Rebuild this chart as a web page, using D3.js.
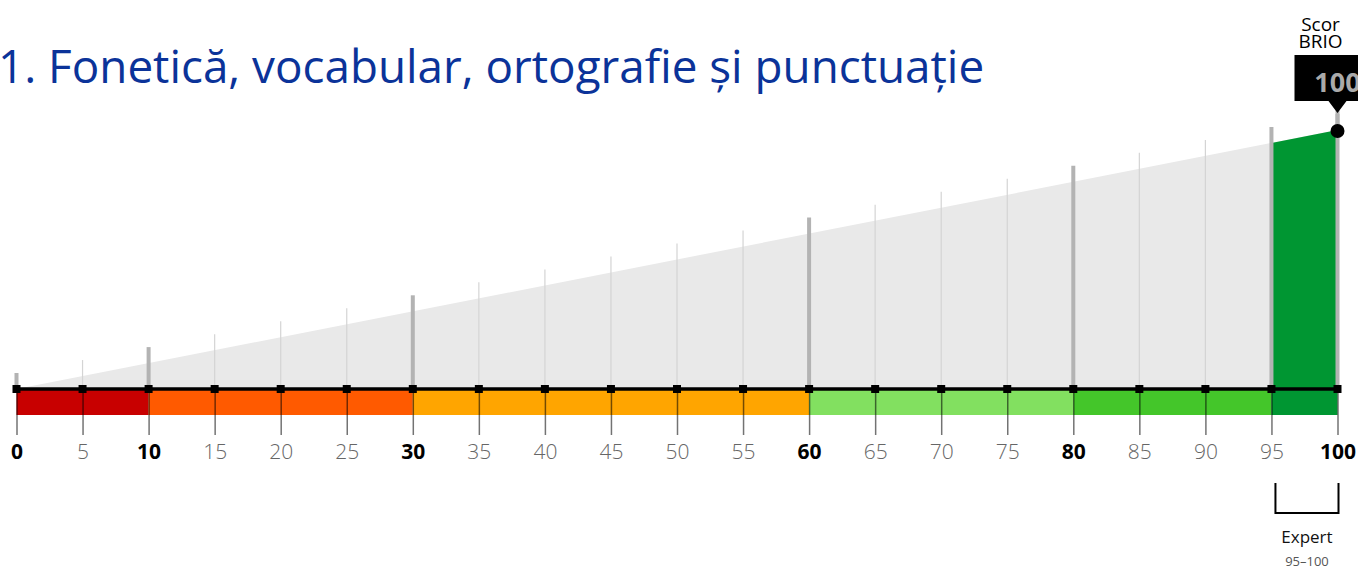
<!DOCTYPE html>
<html>
<head>
<meta charset="utf-8">
<script src="https://cdn.jsdelivr.net/npm/d3@7"></script>
<style>
  body { margin: 0; background: #fff; overflow: hidden; }
  svg { display: block; font-family: "Open Sans", "Noto Sans", sans-serif; }
</style>
</head>
<body>
<svg id="chart" width="1358" height="570"></svg>
<script>
// data
const title = "1. Fonetică, vocabular, ortografie și punctuație";
const tickValues = d3.range(0, 101, 5);
const bandEdges = [0, 10, 30, 60, 80, 95, 100];
const boldLabels = [0, 10, 30, 60, 80, 100];
const score = 100;
const scoreLabel = ["Scor", "BRIO"];
const level = { name: "Expert", from: 95, to: 100 };

const bandColors = ["#c80000", "#ff5a00", "#ffa500", "#82e060", "#44c62a", "#009632"];

const svg = d3.select("#chart");
const axisY = 389;

const x = d3.scaleLinear().domain([0, 100]).range([16.5, 1337.5]);
// height of the grey wedge above the axis
const h = d3.scaleLinear().domain([0, 100]).range([0, 259]);

svg.append("text")
    .attr("x", -2)
    .attr("y", 83)
    .attr("fill", "#0b3399")
    .attr("font-size", 45.8)
    .text(title);

// grey wedge
svg.append("path")
    .attr("fill", "#e9e9e9")
    .attr("d", d3.area()
        .x(d => x(d))
        .y0(axisY)
        .y1(d => axisY - h(d))([0, 100]));

// green fill for the achieved level
svg.append("path")
    .attr("fill", "#009632")
    .attr("d", d3.area()
        .x(d => x(d))
        .y0(axisY)
        .y1(d => axisY - h(d))([level.from, score]));

// vertical grid lines
svg.append("g").selectAll("line")
    .data(tickValues)
    .join("line")
    .attr("x1", d => x(d))
    .attr("x2", d => x(d))
    .attr("y1", axisY)
    .attr("y2", d => axisY - h(d) - 16)
    .attr("stroke", d => bandEdges.includes(d) ? "#b3b3b3" : "#d4d4d4")
    .attr("stroke-width", d => bandEdges.includes(d) ? 4 : 1.2);

// colour bands
svg.append("g").selectAll("rect")
    .data(d3.pairs(bandEdges))
    .join("rect")
    .attr("x", d => x(d[0]))
    .attr("width", d => x(d[1]) - x(d[0]))
    .attr("y", axisY)
    .attr("height", 26)
    .attr("fill", (d, i) => bandColors[i]);

// tick marks below the axis
const axisG = svg.append("g")
    .attr("transform", `translate(0,${axisY})`)
    .call(d3.axisBottom(x).tickValues(tickValues).tickSize(46).tickPadding(9)
        .tickFormat(d3.format("d")));
axisG.select(".domain").remove();
axisG.selectAll(".tick line")
    .attr("stroke", "#000")
    .attr("stroke-opacity", 0.55)
    .attr("stroke-width", 1.5);
axisG.selectAll(".tick text")
    .attr("font-family", "'Open Sans', 'Noto Sans', sans-serif")
    .attr("font-size", 21)
    .attr("dy", "0.71em")
    .attr("font-weight", d => boldLabels.includes(d) ? 700 : 300)
    .attr("fill", d => boldLabels.includes(d) ? "#000" : "#666");

// axis line with square markers
svg.append("line")
    .attr("x1", x(0))
    .attr("x2", x(100) + 2)
    .attr("y1", axisY)
    .attr("y2", axisY)
    .attr("stroke", "#000")
    .attr("stroke-width", 3.5);
svg.append("g").selectAll("rect")
    .data(tickValues)
    .join("rect")
    .attr("x", d => x(d) - 4)
    .attr("y", axisY - 4)
    .attr("width", 8)
    .attr("height", 8)
    .attr("fill", "#000");

// score marker
const sx = x(score), sy = axisY - h(score) + 1;
svg.append("line")
    .attr("x1", sx).attr("x2", sx)
    .attr("y1", 110).attr("y2", sy)
    .attr("stroke", "#b3b3b3")
    .attr("stroke-width", 4);
svg.append("circle")
    .attr("cx", sx)
    .attr("cy", sy)
    .attr("r", 7)
    .attr("fill", "#000");
svg.append("path")
    .attr("fill", "#000")
    .attr("d", `M${sx - 43},55 H${sx + 43} V101 H${sx + 9} L${sx},113 L${sx - 9},101 H${sx - 43} Z`);
svg.append("text")
    .attr("x", sx)
    .attr("y", 92)
    .attr("text-anchor", "middle")
    .attr("font-size", 27)
    .attr("font-weight", 700)
    .attr("fill", "#aaa")
    .text(score);
svg.append("text")
    .attr("text-anchor", "middle")
    .attr("font-size", 19)
    .attr("fill", "#000")
    .selectAll("tspan")
    .data(scoreLabel)
    .join("tspan")
    .attr("x", sx - 17)
    .attr("y", (d, i) => 31 + i * 17)
    .text(d => d);

// level bracket
const bx0 = x(level.from) + 4, bx1 = x(level.to) + 1;
svg.append("path")
    .attr("fill", "none")
    .attr("stroke", "#000")
    .attr("stroke-width", 2)
    .attr("d", `M${bx0},483 V513 H${bx1} V483`);
svg.append("text")
    .attr("x", (bx0 + bx1) / 2)
    .attr("y", 543)
    .attr("text-anchor", "middle")
    .attr("font-size", 17)
    .attr("fill", "#111")
    .text(level.name);
svg.append("text")
    .attr("x", (bx0 + bx1) / 2)
    .attr("y", 566)
    .attr("text-anchor", "middle")
    .attr("font-size", 13)
    .attr("fill", "#555")
    .text(`${level.from}–${level.to}`);
</script>
</body>
</html>
